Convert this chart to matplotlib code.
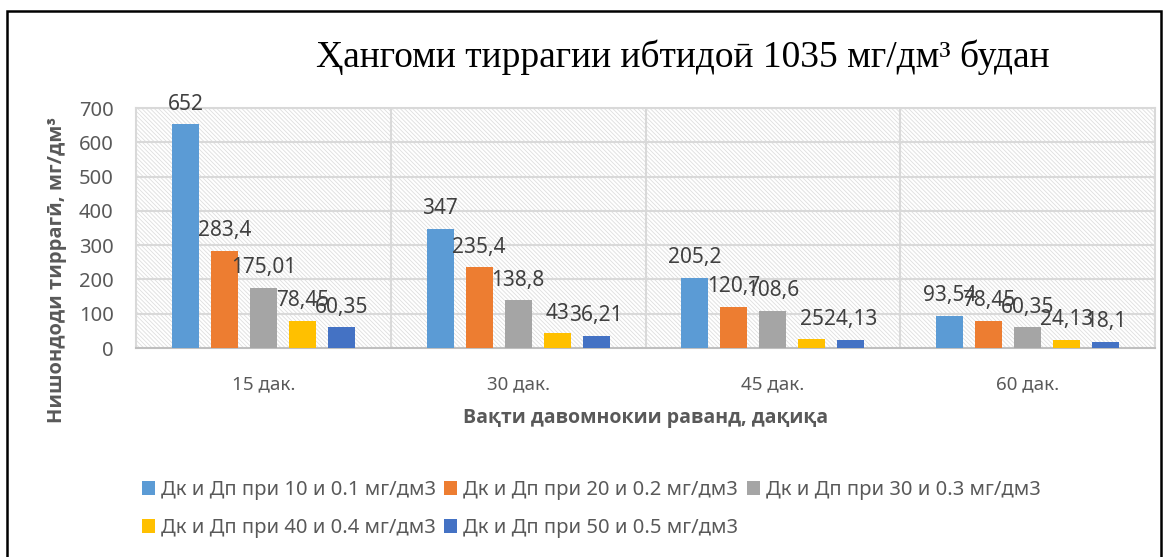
import numpy as np
import matplotlib
import matplotlib.pyplot as plt
from matplotlib.patches import Rectangle

matplotlib.use("Agg")

# данные графика
categories = ["15 дак.", "30 дак.", "45 дак.", "60 дак."]
series_names = [
    "Дк и Дп при 10 и 0.1 мг/дм3",
    "Дк и Дп при 20 и 0.2 мг/дм3",
    "Дк и Дп при 30 и 0.3 мг/дм3",
    "Дк и Дп при 40 и 0.4 мг/дм3",
    "Дк и Дп при 50 и 0.5 мг/дм3",
]
s10 = [652, 347, 205.2, 93.54]
s20 = [283.4, 235.4, 120.7, 78.45]
s30 = [175.01, 138.8, 108.6, 60.35]
s40 = [78.45, 43, 25, 24.13]
s50 = [60.35, 36.21, 24.13, 18.1]
colors = ["#5B9BD5", "#ED7D31", "#A5A5A5", "#FFC000", "#4472C4"]

plt.rcParams["font.family"] = ["Noto Sans", "DejaVu Sans"]
plt.rcParams["hatch.linewidth"] = 0.6

fig = plt.figure(figsize=(11.69, 5.57), dpi=100)
ax = fig.add_axes([136 / 1169, 209 / 557, (1155 - 136) / 1169, 240 / 557])

# рамка вокруг диаграммы
fig.patches.append(Rectangle((7 / 1169, -0.05), (1161 - 7) / 1169, (557 - 11) / 557 + 0.05,
                             transform=fig.transFigure, fill=False, edgecolor="black",
                             linewidth=1.8, zorder=10))

# штрихованный фон области построения
ax.set_facecolor("white")
ax.add_patch(Rectangle((0, 0), 1, 1, transform=ax.transAxes, facecolor="none",
                       edgecolor="#dedede", hatch="\\" * 8, linewidth=0, zorder=0))

x = np.arange(len(categories))
step = 0.153
width = 0.106
all_series = [s10, s20, s30, s40, s50]
bars_list = []
for i, (vals, name, c) in enumerate(zip(all_series, series_names, colors)):
    pos = x + (i - 2) * step
    bars = ax.bar(pos, vals, width=width, color=c, label=name, zorder=3)
    bars_list.append(bars)
    for xp, v in zip(pos, vals):
        txt = ("%g" % v).replace(".", ",")
        ax.annotate(txt, (xp, v), xytext=(0, 7), textcoords="offset points",
                    ha="center", va="bottom", fontsize=15, color="#404040", zorder=5)

ax.set_xlim(-0.5, len(categories) - 0.5)
ax.set_ylim(0, 700)
ax.set_yticks(range(0, 701, 100))
ax.set_xticks(x)
ax.set_xticklabels(categories)
ax.tick_params(axis="y", length=0, pad=16, labelsize=14.5, labelcolor="#595959")
ax.tick_params(axis="x", length=0, pad=20, labelsize=13.5, labelcolor="#595959")

for yv in range(100, 701, 100):
    ax.axhline(yv, color="#d9d9d9", linewidth=1.5, zorder=1)
for xv in np.arange(0.5, len(categories) - 0.5, 1):
    ax.axvline(xv, color="#d9d9d9", linewidth=1.5, zorder=1)

for side in ["top", "right", "left"]:
    ax.spines[side].set_color("#d9d9d9")
    ax.spines[side].set_linewidth(1.5)
ax.spines["bottom"].set_color("#bfbfbf")
ax.spines["bottom"].set_linewidth(1.5)

bold_font = ["Open Sans", "DejaVu Sans"]
fig.text(57 / 1169, 1 - 270 / 557, "Нишондоди тиррагӣ, мг/дм³", rotation=90,
         ha="center", va="center", fontsize=14.5, fontweight="bold",
         color="#595959", family=bold_font)
ax.set_xlabel("Вақти давомнокии раванд, дақиқа", fontsize=14, fontweight="bold",
              color="#595959", labelpad=10, family=bold_font)

fig.text(683 / 1169, 1 - 57 / 557, "Ҳангоми тиррагии ибтидоӣ 1035 мг/дм³ будан",
         ha="center", va="center", fontsize=27,
         family=["Liberation Serif", "DejaVu Serif"], color="black")

# легенда: строки по 3 и 2 элемента
order = [0, 3, 1, 4, 2]
handles = [bars_list[k] for k in order]
labels = [series_names[k] for k in order]
fig.legend(handles, labels, ncol=3, loc="upper left",
           bbox_to_anchor=(124 / 1169, 1 - 462 / 557), frameon=False,
           fontsize=14.5, labelcolor="#595959", handlelength=0.65, handleheight=0.65,
           handletextpad=0.3, columnspacing=0.4, labelspacing=0.9)

plt.savefig("out.png", dpi=100)
plt.close()
